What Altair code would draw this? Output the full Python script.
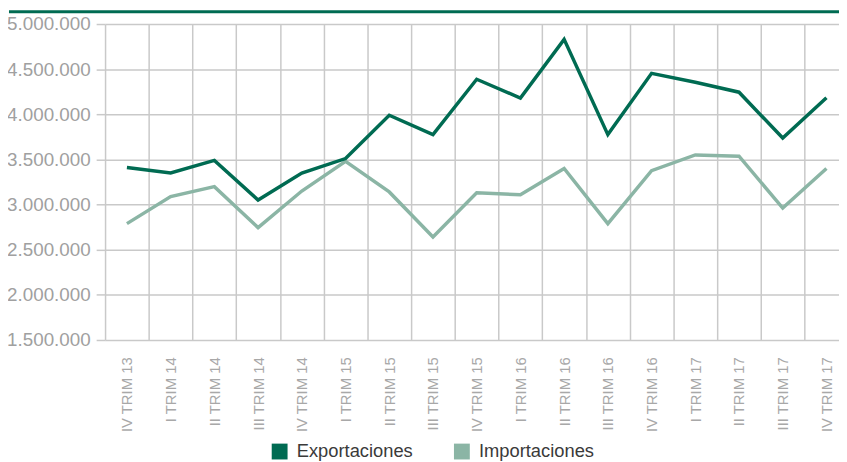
import altair as alt
import pandas as pd

categories = ["IV TRIM 13", "I TRIM 14", "II TRIM 14", "III TRIM 14", "IV TRIM 14",
              "I TRIM 15", "II TRIM 15", "III TRIM 15", "IV TRIM 15",
              "I TRIM 16", "II TRIM 16", "III TRIM 16", "IV TRIM 16",
              "I TRIM 17", "II TRIM 17", "III TRIM 17", "IV TRIM 17"]
exportaciones = [3410000, 3350000, 3490000, 3050000, 3350000, 3510000, 3990000, 3775000,
                 4388000, 4180000, 4830000, 3775000, 4454000, 4355000, 4245000, 3737000, 4184000]
importaciones = [2789000, 3089000, 3199000, 2745000, 3150000, 3480000, 3140000, 2640000,
                 3130000, 3108000, 3400000, 2789000, 3375000, 3550000, 3536000, 2961000, 3400000]
series = ["Exportaciones", "Importaciones"]
colors = ["#006b52", "#8bb5a5"]
y_ticks = [1500000, 2000000, 2500000, 3000000, 3500000, 4000000, 4500000, 5000000]

rows = []
for c, v in zip(categories, importaciones):
    rows.append({"trim": c, "serie": "Importaciones", "valor": v})
for c, v in zip(categories, exportaciones):
    rows.append({"trim": c, "serie": "Exportaciones", "valor": v})
df = pd.DataFrame(rows)

FONT = "Liberation Sans, Arial, sans-serif"
GRID = "#c9c9c9"

lines = alt.Chart(df).mark_line(strokeWidth=3.5, strokeJoin="miter").encode(
    x=alt.X("trim:N", sort=categories,
            scale=alt.Scale(range=[0, 750.4], paddingInner=0, paddingOuter=0),
            axis=alt.Axis(title=None, labelAngle=-90, labelFontSize=15,
                          labelColor="#a8a8a8", labelFont=FONT, ticks=False,
                          tickSize=0, labelPadding=17, domain=False,
                          grid=True, gridColor=GRID, gridWidth=1.5,
                          tickBand="extent", labelBaseline="middle")),
    y=alt.Y("valor:Q",
            scale=alt.Scale(domain=[1500000, 5000000], nice=False, zero=False),
            axis=alt.Axis(title=None, values=y_ticks, labelFontSize=19,
                          labelColor="#a0a0a0", labelFont=FONT,
                          labelExpr="replace(replace(format(datum.value, ',d'), ',', '.'), ',', '.')",
                          tickSize=9, tickColor=GRID, tickWidth=1.5,
                          labelPadding=6, domain=False, grid=True,
                          gridColor=GRID, gridWidth=1.5)),
    color=alt.Color("serie:N", sort=series,
                    scale=alt.Scale(domain=series, range=colors),
                    legend=alt.Legend(title=None, orient="none", legendX=167, legendY=422,
                                      direction="horizontal", symbolType="square",
                                      symbolSize=64, symbolStrokeWidth=8,
                                      labelFontSize=18.5, labelColor="#3a3a3a",
                                      labelFont=FONT, labelOffset=8,
                                      columnPadding=29, padding=0)),
    detail="serie:N",
)

top_bar = alt.Chart(pd.DataFrame({"k": [0]})).mark_rule(
    color="#006b52", strokeWidth=3).encode(
    x=alt.value(-97), x2=alt.value(745), y=alt.value(-12.5))

chart = alt.layer(lines, top_bar).properties(
    width=741, height=319,
    autosize=alt.AutoSizeParams(type="none"),
    padding={"left": 98, "top": 14, "right": 0, "bottom": 121},
).configure_view(stroke=None)

chart.save("out.html", embed_options={"renderer": "svg", "actions": False})
